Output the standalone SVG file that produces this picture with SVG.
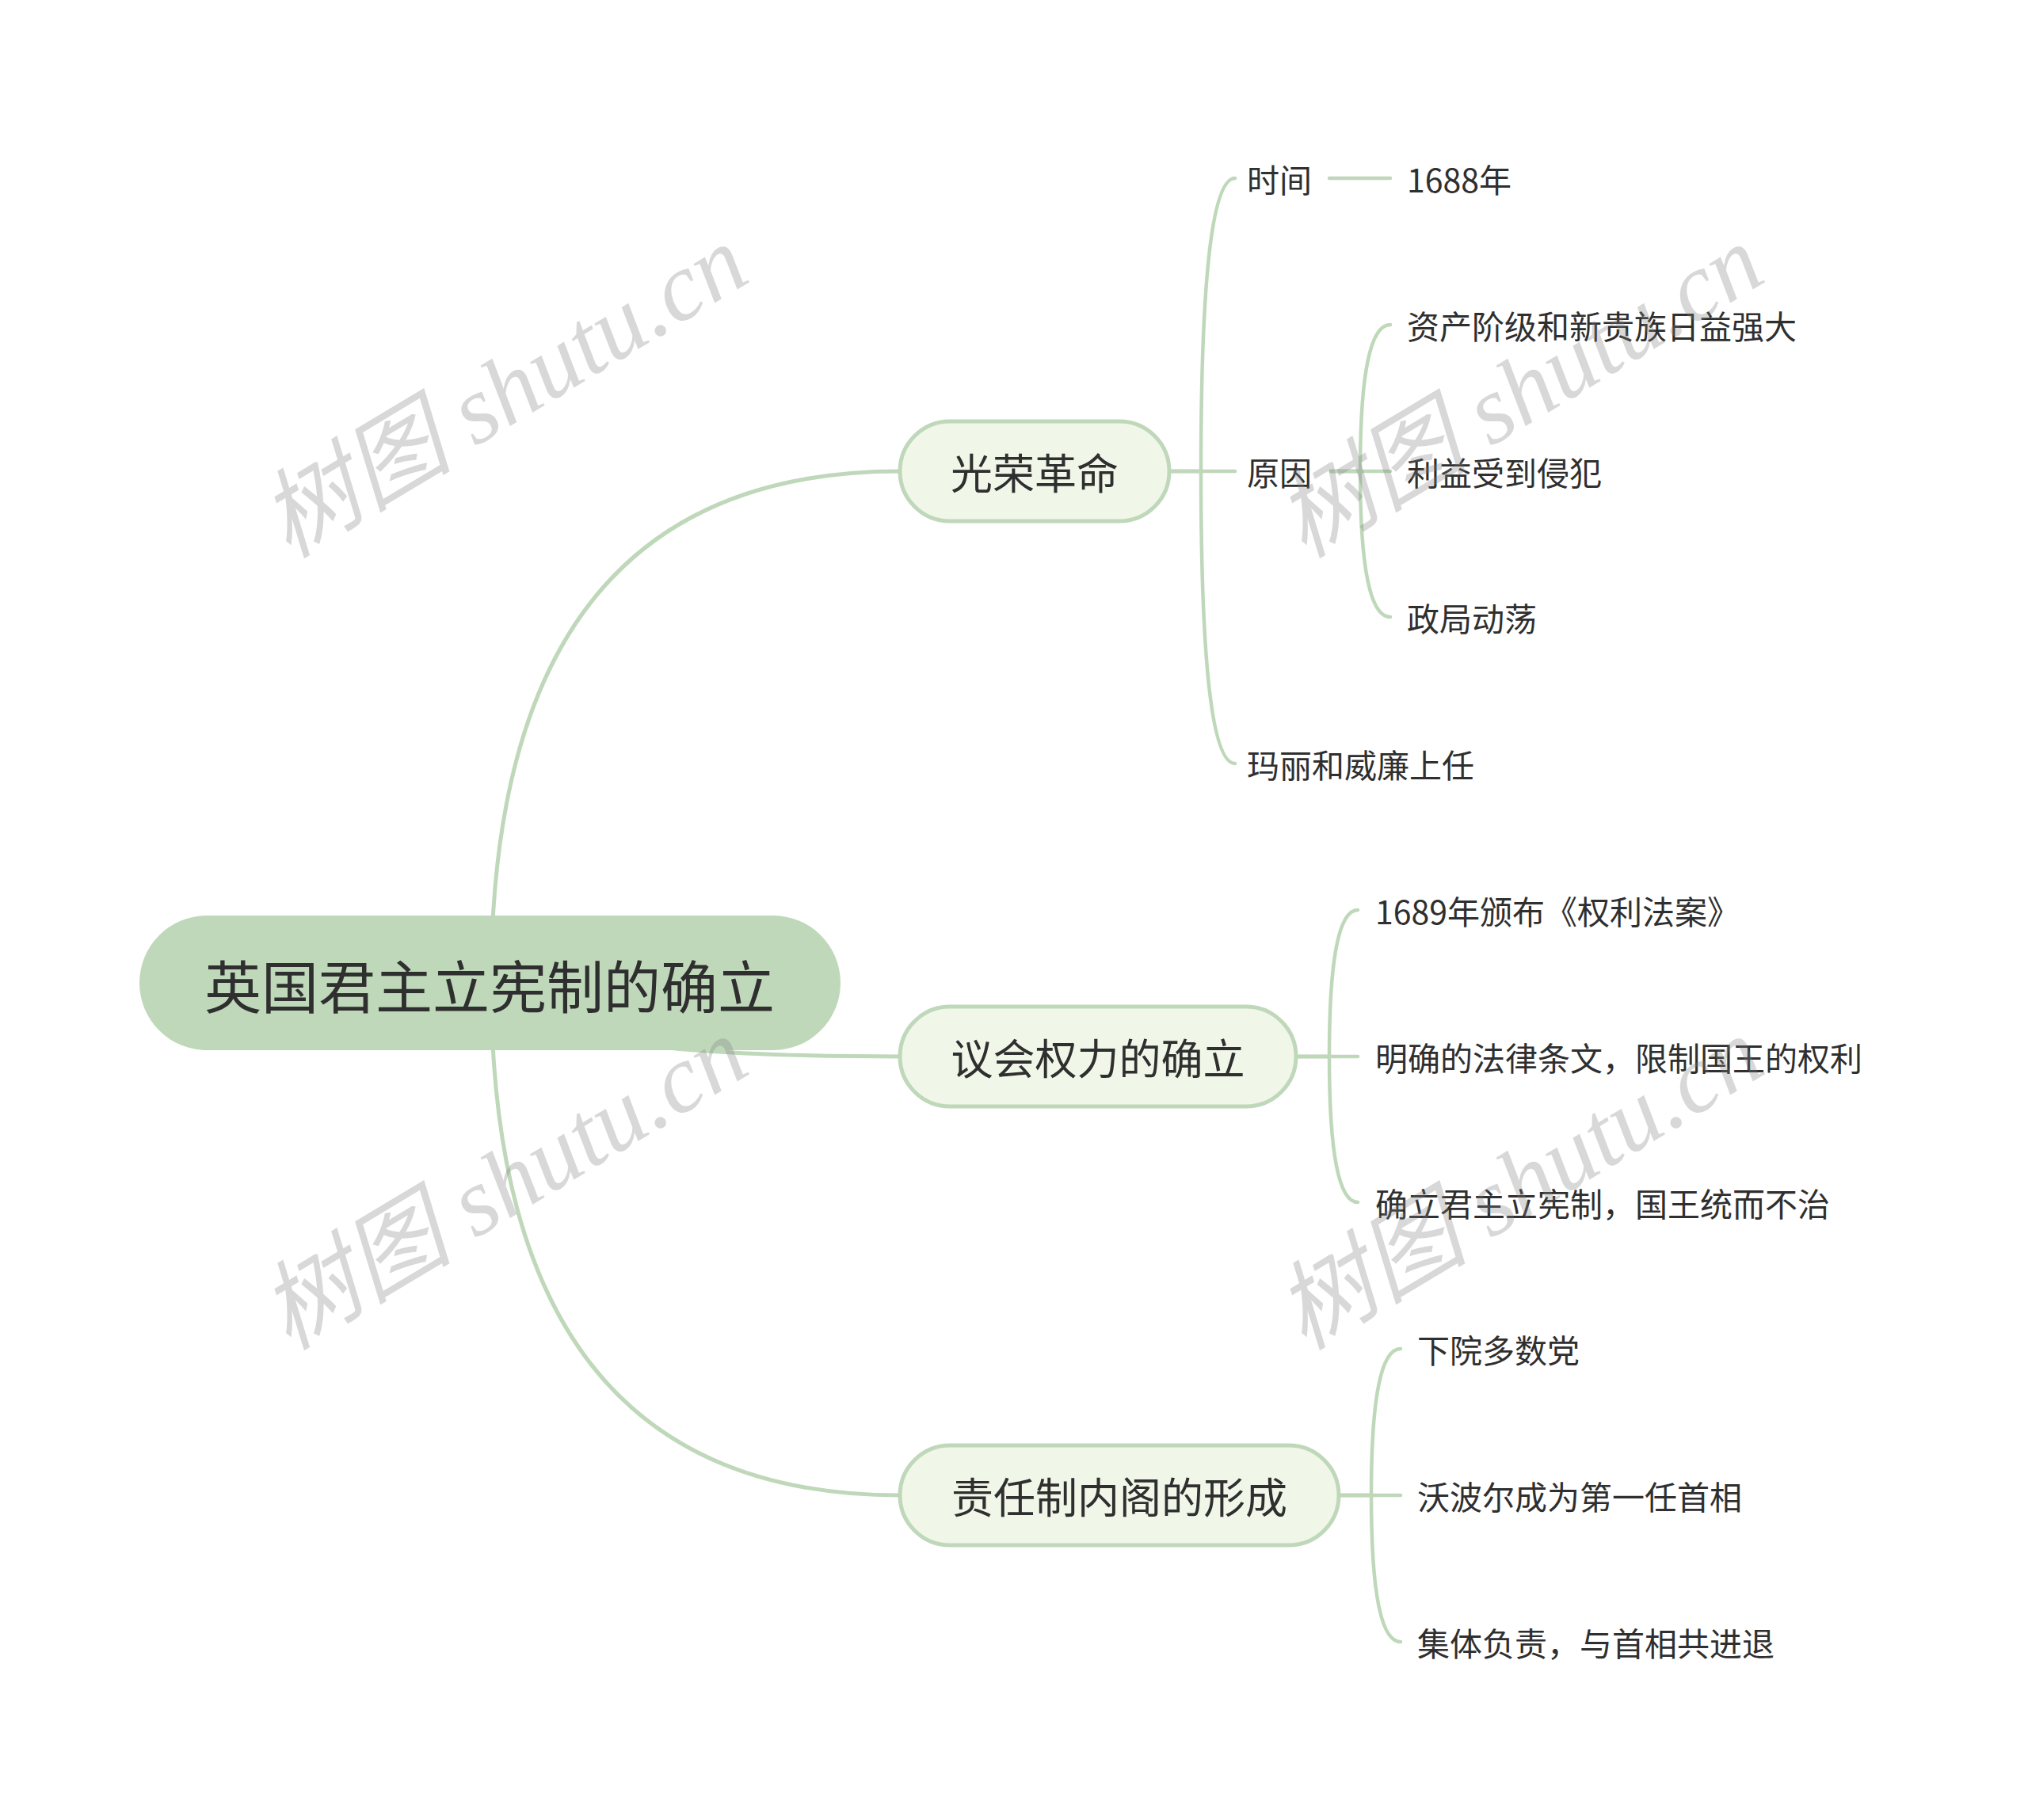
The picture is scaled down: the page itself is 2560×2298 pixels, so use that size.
<svg xmlns="http://www.w3.org/2000/svg" width="2560" height="2298" viewBox="0 0 2560 2298">
<style>
.ln{fill:none;stroke:#BFD8BA;stroke-width:4.5;stroke-linecap:round}
.br{fill:none;stroke:#BFD8BA;stroke-width:5}
.t{font-family:"Noto Sans CJK SC","Noto Sans",sans-serif;fill:#2f2f2f;dominant-baseline:central}
.leaf{font-size:41px}
.main{font-size:53px;text-anchor:middle}
.root{font-size:72px;text-anchor:middle}
.mn{fill:#F0F6E8;stroke:#BFD8BA;stroke-width:5}
.wm{font-family:"Liberation Serif","Noto Sans CJK SC",serif;font-style:italic;font-size:122px;fill:#7f7f7f;fill-opacity:0.3}
</style>
<rect width="2560" height="2298" fill="#ffffff"/>
<g id="connectors">
<path class="br" d="M620 1241 Q620 595 1136 595"/>
<path class="br" d="M620 1241 Q620 1334 1136 1334"/>
<path class="br" d="M620 1241 Q620 1888 1136 1888"/>
<path class="ln" d="M1476 595 L1516 595 Q1516 225 1559 225"/>
<path class="ln" d="M1476 595 L1559 595"/>
<path class="ln" d="M1476 595 L1516 595 Q1516 964 1559 964"/>
<path class="ln" d="M1678 225 L1755 225"/>
<path class="ln" d="M1680 595 L1717 595 Q1717 410 1755 410"/>
<path class="ln" d="M1680 595 L1755 595"/>
<path class="ln" d="M1680 595 L1717 595 Q1717 779 1755 779"/>
<path class="ln" d="M1636 1334 L1678 1334 Q1678 1149 1714 1149"/>
<path class="ln" d="M1636 1334 L1714 1334"/>
<path class="ln" d="M1636 1334 L1678 1334 Q1678 1518 1714 1518"/>
<path class="ln" d="M1690 1888 L1731 1888 Q1731 1703 1768 1703"/>
<path class="ln" d="M1690 1888 L1768 1888"/>
<path class="ln" d="M1690 1888 L1731 1888 Q1731 2073 1768 2073"/>
</g>
<g id="root">
<rect x="176" y="1156" width="885" height="170" rx="85" fill="#BFD8BA"/>
<text class="t root" x="618" y="1241">英国君主立宪制的确立</text>
</g>
<g id="n1">
<rect class="mn" x="1136" y="532" width="340" height="126" rx="63"/>
<text class="t main" x="1306" y="595">光荣革命</text>
</g>
<g id="n2">
<rect class="mn" x="1136" y="1271" width="500" height="126" rx="63"/>
<text class="t main" x="1386" y="1334">议会权力的确立</text>
</g>
<g id="n3">
<rect class="mn" x="1136" y="1825" width="554" height="126" rx="63"/>
<text class="t main" x="1413" y="1888">责任制内阁的形成</text>
</g>
<g id="n1a"><text class="t leaf" x="1574" y="225">时间</text></g>
<g id="n1a1"><text class="t leaf" x="1776" y="225">1688年</text></g>
<g id="n1b"><text class="t leaf" x="1574" y="595">原因</text></g>
<g id="n1b1"><text class="t leaf" x="1776" y="410">资产阶级和新贵族日益强大</text></g>
<g id="n1b2"><text class="t leaf" x="1776" y="595">利益受到侵犯</text></g>
<g id="n1b3"><text class="t leaf" x="1776" y="779">政局动荡</text></g>
<g id="n1c"><text class="t leaf" x="1574" y="964">玛丽和威廉上任</text></g>
<g id="n2a"><text class="t leaf" x="1736" y="1149">1689年颁布《权利法案》</text></g>
<g id="n2b"><text class="t leaf" x="1736" y="1334">明确的法律条文，限制国王的权利</text></g>
<g id="n2c"><text class="t leaf" x="1736" y="1518">确立君主立宪制，国王统而不治</text></g>
<g id="n3a"><text class="t leaf" x="1789" y="1703">下院多数党</text></g>
<g id="n3b"><text class="t leaf" x="1789" y="1888">沃波尔成为第一任首相</text></g>
<g id="n3c"><text class="t leaf" x="1789" y="2073">集体负责，与首相共进退</text></g>
<g id="watermarks">
<text class="wm" transform="translate(364 706) rotate(-31)">树图 shutu.cn</text>
<text class="wm" transform="translate(1646 706) rotate(-31)">树图 shutu.cn</text>
<text class="wm" transform="translate(364 1706) rotate(-31)">树图 shutu.cn</text>
<text class="wm" transform="translate(1646 1706) rotate(-31)">树图 shutu.cn</text>
</g>
</svg>
